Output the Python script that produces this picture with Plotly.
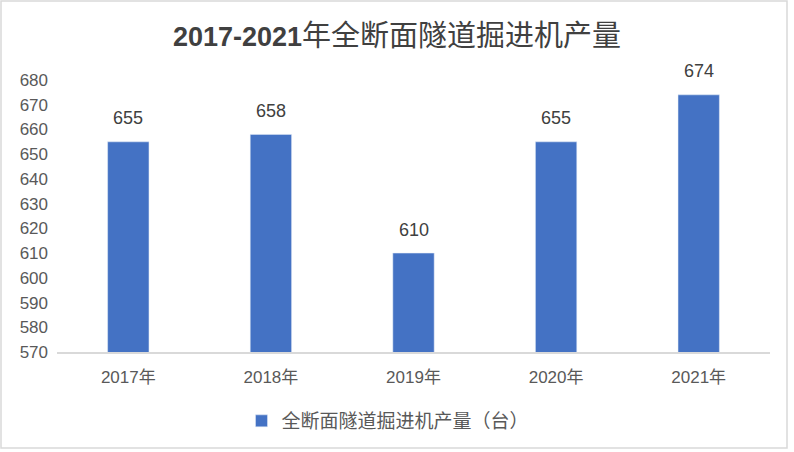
import plotly.graph_objects as go

categories = ["2017年", "2018年", "2019年", "2020年", "2021年"]
values = [655, 658, 610, 655, 674]
series_name = "全断面隧道掘进机产量（台）"
title_year = "2017-2021"
title_rest = "年全断面隧道掘进机产量"

W, H = 794, 452
ml, mr, mt, mb = 57, 24, 80, 100
FONT = "Liberation Sans, Noto Sans CJK SC"

fig = go.Figure()
fig.add_trace(go.Bar(
    x=categories, y=values, name=series_name,
    marker=dict(color="#4472C4"), width=0.29,
))
for c, v in zip(categories, values):
    fig.add_annotation(x=c, y=v, text=str(v), showarrow=False, yanchor="middle",
                       yshift=23.5, font=dict(size=18, color="#404040", family=FONT))

pw = W - ml - mr
ph = H - mt - mb
fig.update_layout(
    width=W, height=H,
    margin=dict(l=ml, r=mr, t=mt, b=mb),
    paper_bgcolor="white", plot_bgcolor="white",
    title=dict(text="<b>" + title_year + "</b><span style='font-size:29px'>" + title_rest + "</span>",
               x=0.5, xanchor="center", y=1 - 37 / H, yanchor="middle",
               font=dict(size=27, color="#404040", family=FONT)),
    font=dict(family=FONT, color="#595959"),
    showlegend=True,
    legend=dict(orientation="h", x=(388 - ml) / pw, xanchor="center", y=-(421 - mt - ph) / ph, yanchor="middle",
                font=dict(size=19, color="#595959"), itemwidth=30),
    xaxis=dict(showgrid=False, showline=True, linecolor="#D9D9D9", linewidth=1.5,
               tickfont=dict(size=17, color="#595959"), ticks="", ticklabelstandoff=9),
    yaxis=dict(range=[570, 680], dtick=10, showgrid=False, showline=False, zeroline=False,
               tickfont=dict(size=17, color="#595959"), ticks="", ticklabelstandoff=8),
    shapes=[dict(type="rect", xref="paper", yref="paper",
                 x0=(1 - ml) / pw, x1=(787 - ml) / pw,
                 y0=-(448 - mt - ph) / ph, y1=1 + (mt - 1) / ph,
                 line=dict(color="#D9D9D9", width=1.5), fillcolor="rgba(0,0,0,0)", layer="below")],
)

fig.write_html("out.html", config={"displayModeBar": False},
               post_script="document.body.style.margin='0px';")
